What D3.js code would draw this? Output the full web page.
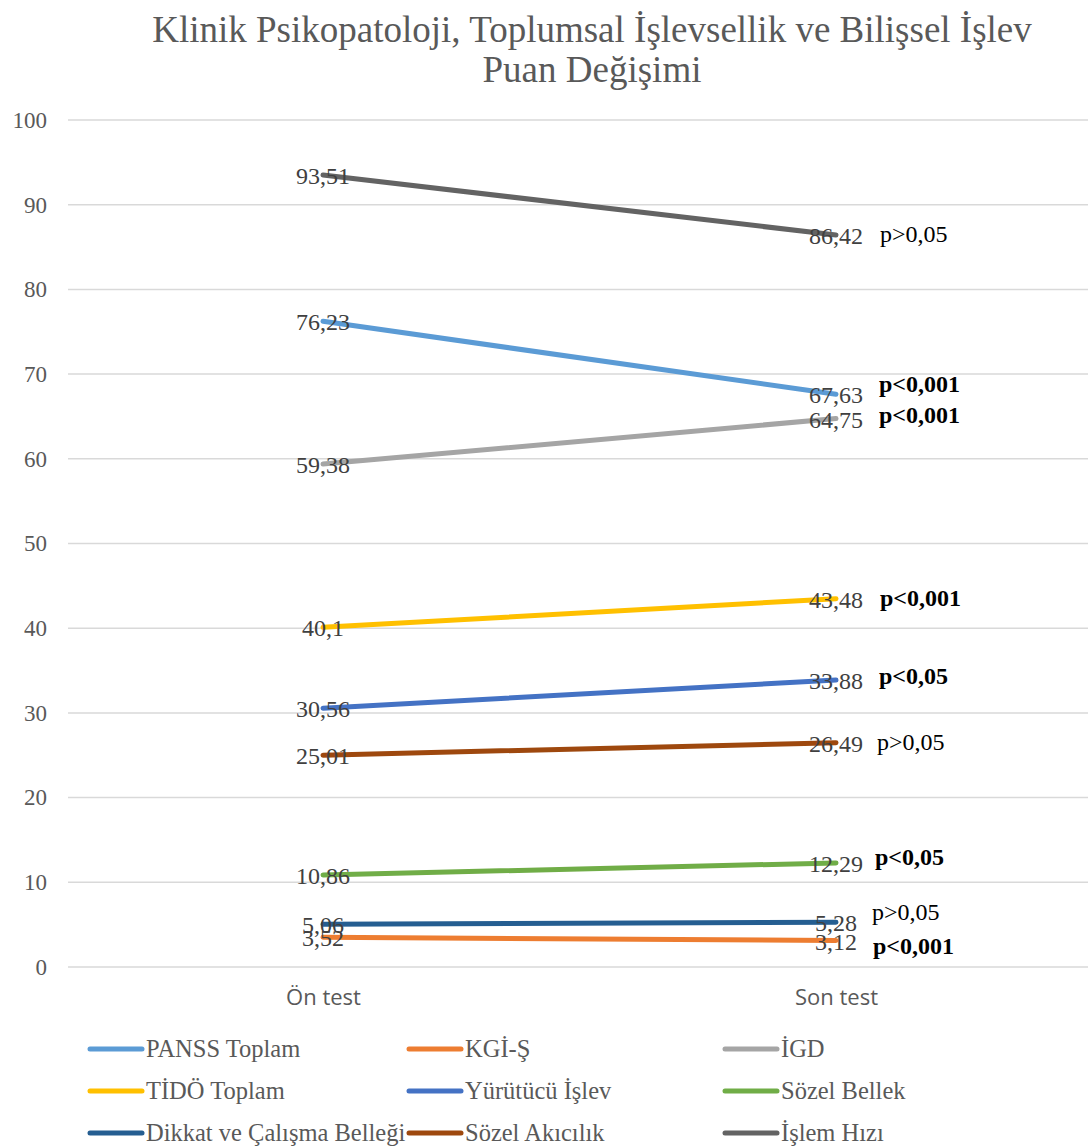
<!DOCTYPE html>
<html>
<head>
<meta charset="utf-8">
<script src="https://cdn.jsdelivr.net/npm/d3@7"></script>
<style>
  body { margin: 0; background: #fff; }
  svg text { font-family: "Liberation Serif", "Times New Roman", serif; }
</style>
</head>
<body>
<div id="chart"></div>
<script>
// data
var categories = ["Ön test", "Son test"];
var seriesNames = ["PANSS Toplam", "KGİ-Ş", "İGD", "TİDÖ Toplam", "Yürütücü İşlev",
  "Sözel Bellek", "Dikkat ve Çalışma Belleği", "Sözel Akıcılık", "İşlem Hızı"];
var onTest = [76.23, 3.52, 59.38, 40.1, 30.56, 10.86, 5.06, 25.01, 93.51];
var sonTest = [67.63, 3.12, 64.75, 43.48, 33.88, 12.29, 5.28, 26.49, 86.42];
var onLabels = ["76,23", "3,52", "59,38", "40,1", "30,56", "10,86", "5,06", "25,01", "93,51"];
var sonLabels = ["67,63", "3,12", "64,75", "43,48", "33,88", "12,29", "5,28", "26,49", "86,42"];
var pTexts = ["p<0,001", "p<0,001", "p<0,001", "p<0,001", "p<0,05", "p<0,05", "p>0,05", "p>0,05", "p>0,05"];
var pBold = [true, true, true, true, true, true, false, false, false];
var colors = ["#5B9BD5", "#ED7D31", "#A5A5A5", "#FFC000", "#4472C4", "#70AD47", "#255E91", "#9E480E", "#636363"];
var yTicks = [0, 10, 20, 30, 40, 50, 60, 70, 80, 90, 100];

// layout nudges for p labels (px), reading order as above
var pShift = [[879, -10], [873, 5], [879, -4], [880, -1], [879, -4], [875, -6], [872, -10], [877, -1], [880, -1]];

var width = 1088, height = 1148;
var margin = { top: 120, right: 0, bottom: 181, left: 68 };

var svg = d3.select("#chart").append("svg")
  .attr("width", width)
  .attr("height", height);

// title
svg.append("text")
  .attr("x", 592).attr("y", 42)
  .attr("text-anchor", "middle")
  .attr("fill", "#595959")
  .style("font-size", "37px")
  .text("Klinik Psikopatoloji, Toplumsal İşlevsellik ve Bilişsel İşlev");
svg.append("text")
  .attr("x", 592).attr("y", 82)
  .attr("text-anchor", "middle")
  .attr("fill", "#595959")
  .style("font-size", "37px")
  .text("Puan Değişimi");

var x = d3.scalePoint()
  .domain(categories)
  .range([323, 836]);

var y = d3.scaleLinear()
  .domain([0, 100])
  .range([967, 120]);

// gridlines
svg.append("g")
  .selectAll("line")
  .data(yTicks)
  .enter().append("line")
  .attr("x1", margin.left)
  .attr("x2", width)
  .attr("y1", d => y(d))
  .attr("y2", d => y(d))
  .attr("stroke", "#d9d9d9")
  .attr("stroke-width", 1.5);

// y axis labels
var yAxis = d3.axisLeft(y).tickValues(yTicks).tickSize(0).tickPadding(0);
var gy = svg.append("g")
  .attr("transform", "translate(47,0)")
  .call(yAxis)
  .attr("font-family", "'Liberation Serif', serif")
  .attr("font-size", 23);
gy.select(".domain").remove();
gy.selectAll("text")
  .attr("fill", "#595959")
  .style("font-family", "'Liberation Serif', serif")
  .style("font-size", "23px");

// x axis labels
var xAxis = d3.axisBottom(x).tickSize(0).tickPadding(0);
var gx = svg.append("g")
  .attr("transform", "translate(0,989)")
  .call(xAxis);
gx.select(".domain").remove();
gx.selectAll("text")
  .attr("fill", "#595959")
  .style("font-family", "'Open Sans', sans-serif")
  .style("font-size", "22px");

var series = seriesNames.map(function(name, i) {
  return {
    name: name,
    color: colors[i],
    values: [
      { cat: categories[0], v: onTest[i], label: onLabels[i] },
      { cat: categories[1], v: sonTest[i], label: sonLabels[i] }
    ],
    p: pTexts[i],
    bold: pBold[i],
    shift: pShift[i]
  };
});

var line = d3.line()
  .x(d => x(d.cat))
  .y(d => y(d.v));

svg.append("g")
  .selectAll("path")
  .data(series)
  .enter().append("path")
  .attr("d", d => line(d.values))
  .attr("fill", "none")
  .attr("stroke", d => d.color)
  .attr("stroke-width", 5)
  .attr("stroke-linecap", "round");

// data labels
var labelG = svg.append("g");
series.forEach(function(s) {
  labelG.selectAll(null)
    .data(s.values)
    .enter().append("text")
    .attr("x", d => x(d.cat))
    .attr("y", d => y(d.v) + 9)
    .attr("text-anchor", "middle")
    .attr("fill", "#404040")
    .style("font-size", "24px")
    .text(d => d.label);
});

// p values
svg.append("g")
  .selectAll("text")
  .data(series)
  .enter().append("text")
  .attr("x", d => d.shift[0])
  .attr("y", d => y(d.values[1].v) + d.shift[1] + 8)
  .attr("fill", "#000")
  .style("font-size", "24px")
  .style("font-weight", d => d.bold ? "bold" : "normal")
  .text(d => d.p);

// legend
var legendCols = [88, 407, 723];
var legendRows = [1049, 1091, 1133];
var legend = svg.append("g")
  .selectAll("g")
  .data(series)
  .enter().append("g")
  .attr("transform", (d, i) => "translate(" + legendCols[i % 3] + "," + legendRows[Math.floor(i / 3)] + ")");

legend.append("line")
  .attr("x1", 2).attr("x2", 54)
  .attr("y1", 0).attr("y2", 0)
  .attr("stroke", d => d.color)
  .attr("stroke-width", 5)
  .attr("stroke-linecap", "round");

legend.append("text")
  .attr("x", 58)
  .attr("y", 8)
  .attr("fill", "#595959")
  .style("font-size", "24.5px")
  .text(d => d.name);
</script>
</body>
</html>
